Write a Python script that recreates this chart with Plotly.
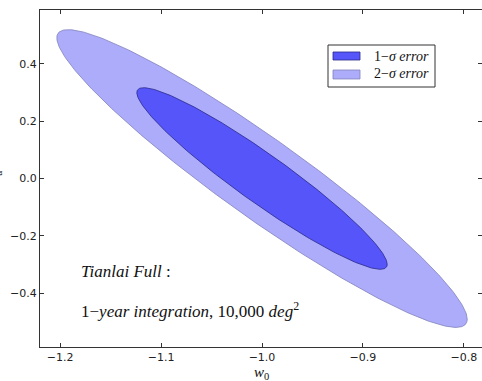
import numpy as np
import plotly.graph_objects as go

# Fisher-forecast parameters
center_w0 = -1.0
center_wa = 0.0
sigma_w0 = 0.0818
sigma_wa = 0.209
rho = -0.945
levels = ["1−σ error", "2−σ error"]
delta_chi2 = [2.30, 6.18]

x_ticks = [-1.2, -1.1, -1.0, -0.9, -0.8]
y_ticks = [-0.4, -0.2, 0.0, 0.2, 0.4]

cov = np.array([[sigma_w0**2, rho * sigma_w0 * sigma_wa],
                [rho * sigma_w0 * sigma_wa, sigma_wa**2]])
L = np.linalg.cholesky(cov)
t = np.linspace(0, 2 * np.pi, 400)
circle = np.vstack([np.cos(t), np.sin(t)])


def ellipse(k):
    pts = L @ circle * np.sqrt(k)
    return center_w0 + pts[0], center_wa + pts[1]


styles = {
    "2−σ error": dict(fill="rgba(172,172,250,1)", line="rgba(130,130,190,1)"),
    "1−σ error": dict(fill="rgba(85,85,250,1)", line="rgba(40,40,140,1)"),
}
labels = {"1−σ error": "1−<i>σ error</i>", "2−σ error": "2−<i>σ error</i>"}

fig = go.Figure()
for name, k in [(levels[1], delta_chi2[1]), (levels[0], delta_chi2[0])]:
    xs, ys = ellipse(k)
    fig.add_trace(go.Scatter(
        x=xs, y=ys, mode="lines", fill="toself",
        fillcolor=styles[name]["fill"],
        line=dict(color=styles[name]["line"], width=0.8),
        name=name, showlegend=False, hoverinfo="skip",
    ))

axis_common = dict(
    showgrid=False, zeroline=False, showline=True, linecolor="#333333", linewidth=1,
    mirror="ticks", ticks="inside", ticklen=4, tickcolor="#333333",
    tickformat=".1f", tickfont=dict(family="DejaVu Sans", size=11, color="#222222"),
)

fig.update_layout(
    width=482, height=381,
    margin=dict(l=40, r=0, t=10, b=34),
    paper_bgcolor="white", plot_bgcolor="white",
    xaxis=dict(range=[-1.22, -0.782], tickvals=x_ticks, **axis_common),
    yaxis=dict(range=[-0.588, 0.588], tickvals=y_ticks, **axis_common),
    showlegend=False,
)

# legend drawn as box + swatches + labels (paper coordinates)
fig.add_shape(type="rect", xref="paper", yref="paper",
              x0=0.6516, x1=0.8937, y0=0.7715, y1=0.8961,
              line=dict(color="#333333", width=1), fillcolor="white", layer="above")
swatch_y = [(0.8516, 0.8754), (0.7953, 0.8220)]
text_y = [0.8635, 0.8101]
for name, (y0, y1), ty in zip(levels, swatch_y, text_y):
    fig.add_shape(type="rect", xref="paper", yref="paper",
                  x0=0.6629, x1=0.7240, y0=y0, y1=y1,
                  line=dict(color=styles[name]["line"], width=0.8),
                  fillcolor=styles[name]["fill"], layer="above")
    fig.add_annotation(xref="paper", yref="paper", x=0.7511, y=ty,
                       xanchor="left", yanchor="middle", text=labels[name],
                       showarrow=False,
                       font=dict(family="Liberation Serif", size=14, color="#111111"))

fig.add_annotation(
    xref="paper", yref="paper", x=0.5, y=-0.077, xanchor="center", yanchor="middle",
    text="<i>w</i><sub>0</sub>", showarrow=False,
    font=dict(family="Liberation Serif", size=15, color="#111111"),
)
fig.add_annotation(
    xref="paper", yref="paper", x=-0.104, y=0.5, xanchor="center", yanchor="middle",
    text="<i>w</i><sub>a</sub>", showarrow=False, textangle=-90,
    font=dict(family="Liberation Serif", size=16, color="#111111"),
)
fig.add_annotation(
    xref="x", yref="y", x=-1.181, y=-0.325, xanchor="left", yanchor="middle",
    text="<i>Tianlai Full</i> :", showarrow=False,
    font=dict(family="Liberation Serif", size=17, color="#111111"),
)
fig.add_annotation(
    xref="x", yref="y", x=-1.181, y=-0.46, xanchor="left", yanchor="middle",
    text="1−<i>year integration</i>, 10,000 <i>deg</i><sup>2</sup>", showarrow=False,
    font=dict(family="Liberation Serif", size=17, color="#111111"),
)

fig.write_html("out.html")
